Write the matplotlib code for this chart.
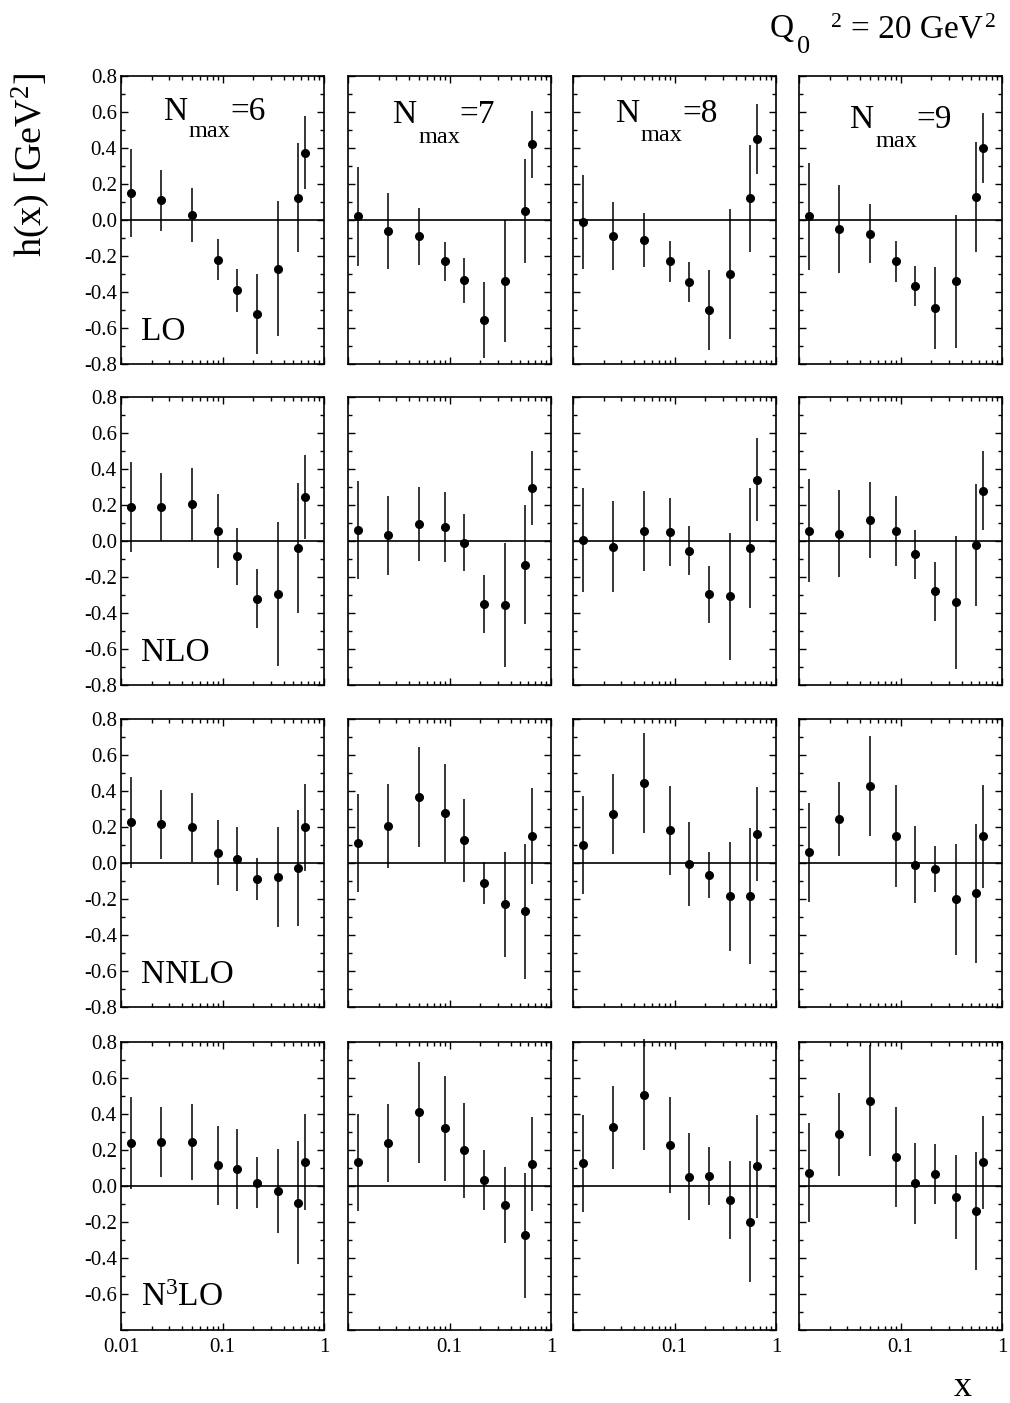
import matplotlib
matplotlib.use("Agg")
import matplotlib.pyplot as plt
from matplotlib.ticker import MultipleLocator, LogLocator, FuncFormatter, NullFormatter

plt.rcParams['font.family'] = 'Liberation Serif'
plt.rcParams['mathtext.fontset'] = 'custom'
plt.rcParams['mathtext.rm'] = 'Liberation Serif'
plt.rcParams['mathtext.it'] = 'Liberation Serif:italic'
plt.rcParams['axes.unicode_minus'] = False

# puntos en x (comunes a todos los paneles)
x_vals = [0.0125, 0.025, 0.05, 0.09, 0.14, 0.22, 0.35, 0.55, 0.65]

nmax = [6, 7, 8, 9]
ordenes = ["LO", "NLO", "NNLO", "N$^3$LO"]

# valores h(x) por orden, una lista por Nmax
lo_h = [
    [0.15, 0.11, 0.03, -0.22, -0.39, -0.52, -0.27, 0.125, 0.375],
    [0.02, -0.06, -0.09, -0.23, -0.335, -0.555, -0.34, 0.05, 0.42],
    [-0.01, -0.09, -0.11, -0.23, -0.345, -0.50, -0.30, 0.12, 0.45],
    [0.02, -0.05, -0.075, -0.23, -0.365, -0.49, -0.34, 0.13, 0.40],
]
lo_err = [
    [0.245, 0.17, 0.15, 0.113, 0.12, 0.222, 0.377, 0.305, 0.202],
    [0.273, 0.21, 0.158, 0.108, 0.125, 0.21, 0.34, 0.29, 0.185],
    [0.26, 0.19, 0.15, 0.115, 0.112, 0.22, 0.36, 0.297, 0.194],
    [0.298, 0.243, 0.163, 0.113, 0.11, 0.227, 0.37, 0.305, 0.195],
]

nlo_h = [
    [0.187, 0.189, 0.204, 0.056, -0.085, -0.32, -0.293, -0.039, 0.244],
    [0.061, 0.031, 0.096, 0.076, -0.009, -0.35, -0.357, -0.131, 0.294],
    [0.007, -0.031, 0.056, 0.05, -0.054, -0.296, -0.306, -0.037, 0.341],
    [0.057, 0.041, 0.117, 0.056, -0.074, -0.278, -0.341, -0.022, 0.28],
]
nlo_err = [
    [0.25, 0.19, 0.204, 0.205, 0.16, 0.165, 0.40, 0.36, 0.235],
    [0.27, 0.22, 0.205, 0.195, 0.157, 0.16, 0.345, 0.33, 0.207],
    [0.29, 0.255, 0.222, 0.188, 0.136, 0.158, 0.353, 0.334, 0.23],
    [0.285, 0.24, 0.21, 0.195, 0.135, 0.164, 0.37, 0.338, 0.221],
]

nnlo_h = [
    [0.226, 0.215, 0.198, 0.057, 0.022, -0.089, -0.078, -0.028, 0.198],
    [0.111, 0.206, 0.369, 0.276, 0.126, -0.111, -0.23, -0.269, 0.15],
    [0.10, 0.272, 0.444, 0.181, -0.006, -0.065, -0.185, -0.185, 0.163],
    [0.059, 0.243, 0.428, 0.15, -0.009, -0.035, -0.202, -0.169, 0.148],
]
nnlo_err = [
    [0.253, 0.19, 0.19, 0.18, 0.177, 0.118, 0.279, 0.32, 0.24],
    [0.27, 0.233, 0.278, 0.273, 0.23, 0.118, 0.29, 0.375, 0.268],
    [0.27, 0.22, 0.276, 0.245, 0.232, 0.128, 0.303, 0.378, 0.262],
    [0.275, 0.205, 0.277, 0.285, 0.215, 0.127, 0.307, 0.386, 0.286],
]

n3lo_h = [
    [0.239, 0.244, 0.244, 0.115, 0.096, 0.019, -0.028, -0.094, 0.133],
    [0.131, 0.241, 0.409, 0.32, 0.198, 0.033, -0.106, -0.274, 0.122],
    [0.126, 0.326, 0.507, 0.228, 0.052, 0.056, -0.078, -0.198, 0.109],
    [0.074, 0.287, 0.474, 0.161, 0.015, 0.067, -0.061, -0.139, 0.133],
]
n3lo_err = [
    [0.255, 0.196, 0.213, 0.218, 0.222, 0.14, 0.232, 0.342, 0.268],
    [0.268, 0.216, 0.28, 0.29, 0.263, 0.168, 0.213, 0.348, 0.261],
    [0.268, 0.232, 0.307, 0.268, 0.242, 0.16, 0.217, 0.336, 0.286],
    [0.274, 0.23, 0.307, 0.28, 0.226, 0.165, 0.232, 0.33, 0.258],
]

valores = [lo_h, nlo_h, nnlo_h, n3lo_h]
errores = [lo_err, nlo_err, nnlo_err, n3lo_err]

W, H = 1010, 1403
fig = plt.figure(figsize=(W / 100, H / 100), dpi=100)

izquierdas = [121, 348, 573, 799]
arribas = [76, 397, 719, 1042]
ancho = 203
alto = 288

# posicion de la etiqueta N_max en cada columna (fraccion de ejes)
nx0 = [0.21, 0.22, 0.21, 0.25]
ny_n = [0.847, 0.837, 0.84, 0.82]
ny_max = [0.788, 0.767, 0.775, 0.753]


def fmt_y(fila):
    def f(v, pos):
        if fila == 3 and abs(v + 0.8) < 1e-6:
            return ""
        return "%.1f" % (v + 0.0)
    return FuncFormatter(f)


def fmt_x(col):
    def f(v, pos):
        if col > 0 and abs(v - 0.01) < 1e-9:
            return ""
        return "%g" % v
    return FuncFormatter(f)


for fila in range(4):
    for col in range(4):
        l = izquierdas[col] / W
        b = 1 - (arribas[fila] + alto) / H
        ax = fig.add_axes([l, b, ancho / W, alto / H])

        cont = ax.errorbar(x_vals, valores[fila][col], yerr=errores[fila][col],
                           fmt='o', color='black', ms=5.5, elinewidth=1.1,
                           capsize=0, zorder=3)
        for art in cont.lines[2]:
            art.set_clip_on(False)
        ax.axhline(0, color='black', lw=1.2, zorder=2)

        ax.set_xscale('log')
        ax.set_xlim(0.01, 1)
        ax.set_ylim(-0.8, 0.8)
        ax.yaxis.set_major_locator(MultipleLocator(0.2))
        ax.yaxis.set_minor_locator(MultipleLocator(0.1))
        ax.xaxis.set_major_locator(LogLocator(base=10, numticks=5))
        ax.xaxis.set_minor_locator(LogLocator(base=10, subs=range(2, 10), numticks=20))
        ax.xaxis.set_minor_formatter(NullFormatter())
        ax.yaxis.set_major_formatter(fmt_y(fila))
        ax.xaxis.set_major_formatter(fmt_x(col))

        ax.tick_params(which='both', direction='in', top=True, right=True,
                       labelsize=15, width=1.0)
        ax.tick_params(which='major', length=5)
        ax.tick_params(which='minor', length=3)
        ax.tick_params(axis='y', pad=3)
        ax.tick_params(axis='x', pad=6)
        ax.tick_params(labelleft=(col == 0), labelbottom=(fila == 3))
        for s in ax.spines.values():
            s.set_linewidth(1.2)

        if fila == 0:
            x0 = nx0[col]
            ax.text(x0, ny_n[col], 'N', transform=ax.transAxes,
                    ha='left', va='baseline', fontsize=24)
            ax.text(x0 + 0.125, ny_max[col], 'max', transform=ax.transAxes,
                    ha='left', va='baseline', fontsize=17.5)
            ax.text(x0 + 0.33, ny_n[col], '=%d' % nmax[col], transform=ax.transAxes,
                    ha='left', va='baseline', fontsize=24)
        if col == 0:
            ax.text(0.1, 0.085, ordenes[fila], transform=ax.transAxes,
                    ha='left', va='baseline', fontsize=24)

# titulo Q0^2 = 20 GeV^2, por piezas
fig.text(770 / W, 1 - 37 / H, 'Q', ha='left', va='baseline', fontsize=24)
fig.text(797 / W, 1 - 53 / H, '0', ha='left', va='baseline', fontsize=19)
fig.text(831 / W, 1 - 27 / H, '2', ha='left', va='baseline', fontsize=15.5)
fig.text(851 / W, 1 - 37 / H, '= 20 GeV', ha='left', va='baseline', fontsize=24)
fig.text(985 / W, 1 - 27 / H, '2', ha='left', va='baseline', fontsize=15.5)

fig.text(31 / W, 1 - 165 / H, r'h(x) [GeV$^2$]', rotation=90, ha='center', va='center', fontsize=27.5)
fig.text(963 / W, 1 - 1388 / H, 'x', ha='center', va='center', fontsize=26)

fig.savefig("out.png", dpi=100)
